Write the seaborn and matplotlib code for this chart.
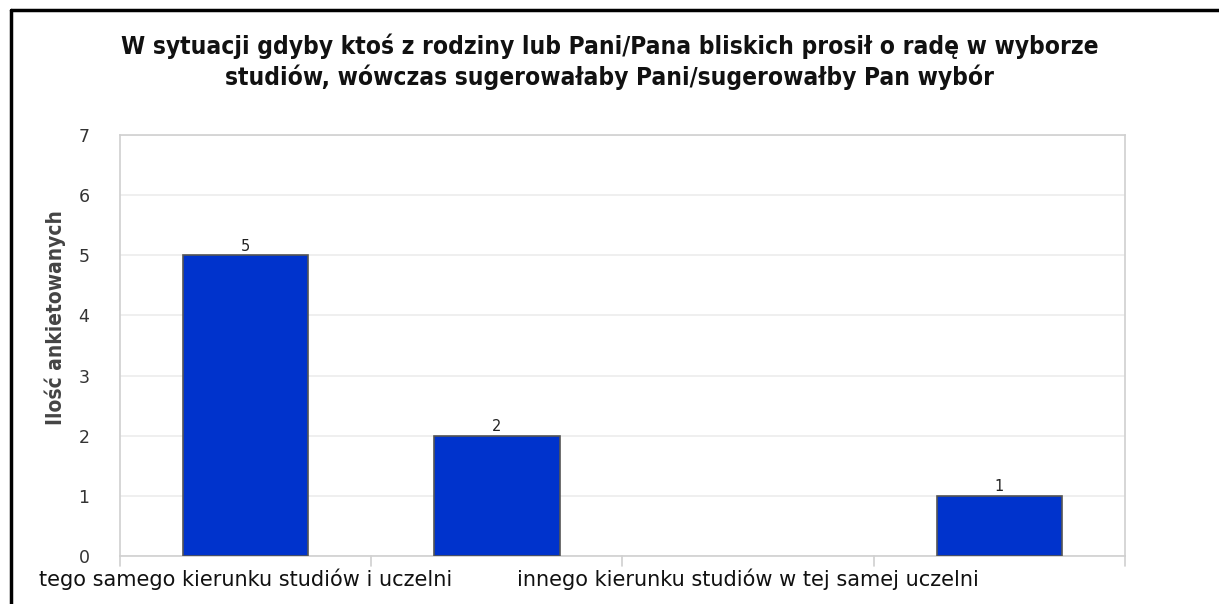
import matplotlib
matplotlib.use("Agg")
import matplotlib.pyplot as plt
from matplotlib import font_manager
import seaborn as sns
import pandas as pd

# Dane z wykresu
categories = [
    "tego samego kierunku studiów i uczelni",
    "kategoria 2",
    "innego kierunku studiów w tej samej uczelni",
    "kategoria 4",
]
values = [5, 2, 0, 1]
# etykiety osi X widoczne tylko co druga (reszta ukryta jak w oryginale)
tick_labels = [
    "tego samego kierunku studiów i uczelni",
    "",
    "innego kierunku studiów w tej samej uczelni",
    "",
]
y_ticks = [0, 1, 2, 3, 4, 5, 6, 7]

title = ("W sytuacji gdyby ktoś z rodziny lub Pani/Pana bliskich prosił o radę w wyborze\n"
         "studiów, wówczas sugerowałaby Pani/sugerowałby Pan wybór")
y_label = "Ilość ankietowanych"

sns.set_theme(style="white")
plt.rcParams["font.family"] = ["DejaVu Sans"]

# wąska, pogrubiona czcionka do tytułu (jeśli dostępna)
cond = [f.fname for f in font_manager.fontManager.ttflist
        if "DejaVuSansCondensed-Bold" in f.fname]

df = pd.DataFrame({"kategoria": categories, "ilosc": values})

fig = plt.figure(figsize=(12.19, 6.04), dpi=100)
ax = fig.add_axes([0.0984, 0.0795, 0.8245, 0.697])

sns.barplot(data=df, x="kategoria", y="ilosc", order=categories,
            color="#0033cc", saturation=1, width=0.5,
            edgecolor="#555555", linewidth=1.2, ax=ax, zorder=3)

for cont in ax.containers:
    for patch, v in zip(cont.patches, cont.datavalues):
        if v == 0:
            patch.set_visible(False)
    labels = [f"{v:g}" if v > 0 else "" for v in cont.datavalues]
    ax.bar_label(cont, labels=labels, padding=1, fontsize=10.5, color="#222222")

ax.set_ylim(0, 7)
ax.set_xlim(-0.5, len(categories) - 0.5)
ax.set_yticks(y_ticks)
ax.set_yticklabels([str(t) for t in y_ticks])
ax.set_xticks(range(len(categories)))
ax.set_xticklabels(tick_labels)
ax.set_xlabel("")
ax.set_ylabel("")

# siatka i osie
ax.yaxis.grid(True, color="#ececec", linewidth=1.2, zorder=0)
ax.set_axisbelow(True)
for s in ["left", "right", "top", "bottom"]:
    ax.spines[s].set_color("#d0d0d0")
    ax.spines[s].set_linewidth(1.2)

ax.tick_params(axis="y", length=0, pad=22, labelsize=12.5, labelcolor="#333333")
ax.tick_params(axis="x", length=0, pad=9, labelsize=15, labelcolor="#111111")
# znaczniki pomiędzy kategoriami
for b in [-0.5, 0.5, 1.5, 2.5, 3.5]:
    ax.plot([b, b], [0, -0.17], color="#d0d0d0", lw=1.2, clip_on=False)

if cond:
    fp = font_manager.FontProperties(fname=cond[0], size=17.6)
    fp2 = font_manager.FontProperties(fname=cond[0], size=15)
else:
    fp = font_manager.FontProperties(family="DejaVu Sans", weight="bold", size=15.5)
    fp2 = font_manager.FontProperties(family="DejaVu Sans", weight="bold", size=13.5)

fig.text(0.5, 1 - 62 / 604, title, ha="center", va="center",
         fontproperties=fp, linespacing=1.25, color="#111111")
fig.text(55 / 1219, 1 - 318 / 604, y_label, rotation=90, ha="center",
         va="center", fontproperties=fp2, color="#444444")

# ramka
fig.add_artist(plt.Line2D([11 / 1219, 1.0], [1 - 10 / 604, 1 - 10 / 604],
                          color="black", lw=2.5, transform=fig.transFigure))
fig.add_artist(plt.Line2D([11 / 1219, 11 / 1219], [0, 1 - 10 / 604],
                          color="black", lw=2.5, transform=fig.transFigure))

fig.savefig("out.png", dpi=100)
